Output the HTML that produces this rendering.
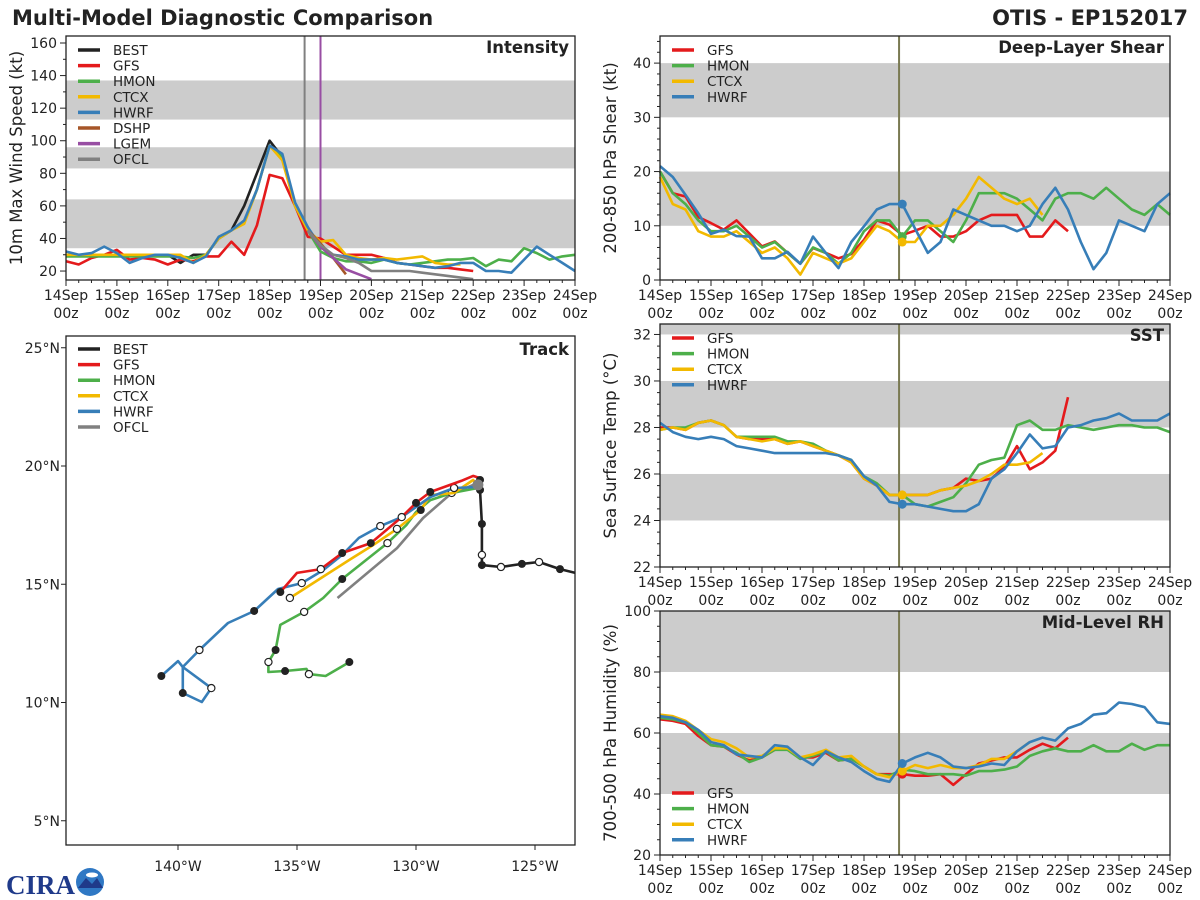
<!DOCTYPE html>
<html><head><meta charset="utf-8"><style>
html,body{margin:0;padding:0;background:#fff;}
svg{display:block;font-family:"DejaVu Sans","Liberation Sans",sans-serif;}
</style></head><body>
<svg id="chart" width="1200" height="900" viewBox="0 0 1200 900" xmlns="http://www.w3.org/2000/svg">
<rect width="1200" height="900" fill="#fff"/>
<text x="12" y="25" font-size="21" font-weight="bold" fill="#222">Multi-Model Diagnostic Comparison</text>
<text x="1188" y="25" font-size="21" font-weight="bold" fill="#222" text-anchor="end">OTIS - EP152017</text>
<g>
<text x="6" y="894" font-size="27" font-weight="bold" fill="#1f3a8a" font-family="Liberation Serif,serif">CIRA</text>
<circle cx="90" cy="882" r="14" fill="#2f78c4"/>
<path d="M78 888 L86 878 L92 884 L97 878 L103 888 Z" fill="#1f3a8a"/>
<ellipse cx="92" cy="875" rx="6" ry="2.5" fill="#fff"/>
</g>
</svg>
<script>
// ---------- DATA ----------
const days = ["14Sep","15Sep","16Sep","17Sep","18Sep","19Sep","20Sep","21Sep","22Sep","23Sep","24Sep"];
// intensity (kt), 6-hourly from 14Sep 00z
const intBEST = [30,30,30,30,30,30,30,30,30,25,30,30,40,45,60,80,100,90,60,45];
const intGFS  = [26,24,28,30,33,27,28,27,24,27,26,29,29,38,30,48,79,77,60,41,40,35,30,30,30,28,25,24,23,22,22,21,20];
const intHMON = [29,29,29,29,29,29,29,29,29,29,28,30,40,45,50,70,97,90,60,45,32,28,26,26,25,27,25,24,25,26,27,27,28,23,27,26,34,31,27,29,30];
const intCTCX = [30,30,30,30,30,30,30,30,30,30,25,30,40,45,49,70,97,88,60,45,38,39,30,28,27,28,27,28,29,25,24,24];
const intHWRF = [32,30,31,35,31,25,28,30,30,28,25,29,41,45,51,70,97,92,62,47,35,30,29,27,27,27,25,24,23,22,23,25,25,20,20,19,27,35,30,25,20];
const intDSHP = [null,null,null,null,null,null,null,null,null,null,null,null,null,null,null,null,null,null,null,45,37,28,18];
const intLGEM = [null,null,null,null,null,null,null,null,null,null,null,null,null,null,null,null,null,null,null,45,35,28,21,18,15];
const intOFCL = [null,null,null,null,null,null,null,null,null,null,null,null,null,null,null,null,null,null,null,45,36,30,28,25,20,20,20,20,19,18,17,16,15];
// shear (kt)
const shrGFS  = [20,16,15.4,11.6,10.5,9.3,11,8.6,6.2,7.1,5,3,5.9,5,4,4.8,7.4,11,10.2,8.3,9.1,10,8,8,9,11,12,12,12,8,8,11,9];
const shrHMON = [20,16,14,11,9,9,10,8,6,7,5,3,6,5,3,5,9,11,11,8,11,11,9,7,11,16,16,16,15,13,11,15,16,16,15,17,15,13,12,14,12];
const shrCTCX = [19,14,13,9,8,8,9,7,5,6,4,1,5,4,3,4,7,10,9,7,7,10,10,12,15,19,17,15,14,15,12];
const shrHWRF = [21,19,15.7,12.3,8.5,9.3,8.1,8,4,4,5.2,3,8,5,2.2,7,9.9,13,14,14,9.5,5,7,13,12,11,10,10,9,10,14,17,13,7,2,5,11,10,9,14,16];
// SST (C)
const sstGFS  = [28.0,28.0,27.9,28.2,28.3,28.1,27.6,27.5,27.5,27.5,27.3,27.4,27.2,27.0,26.8,26.5,25.8,25.5,25.1,25.1,25.1,25.1,25.3,25.4,25.8,25.7,25.8,26.3,27.2,26.2,26.5,27.0,29.3];
const sstHMON = [27.9,28.0,28.0,28.2,28.3,28.1,27.6,27.6,27.6,27.6,27.4,27.4,27.3,27.0,26.8,26.6,25.9,25.6,25.1,25.1,24.7,24.6,24.8,25.0,25.6,26.4,26.6,26.7,28.1,28.3,27.9,27.9,28.1,28.0,27.9,28.0,28.1,28.1,28.0,28.0,27.8];
const sstCTCX = [27.9,28.0,27.9,28.2,28.3,28.1,27.6,27.5,27.4,27.5,27.3,27.4,27.2,27.0,26.8,26.5,25.8,25.5,25.1,25.1,25.1,25.1,25.3,25.4,25.5,25.7,26.0,26.4,26.4,26.5,26.9];
const sstHWRF = [28.2,27.8,27.6,27.5,27.6,27.5,27.2,27.1,27.0,26.9,26.9,26.9,26.9,26.9,26.8,26.6,25.9,25.5,24.8,24.7,24.7,24.6,24.5,24.4,24.4,24.7,25.8,26.2,26.9,27.7,27.1,27.2,28.0,28.1,28.3,28.4,28.6,28.3,28.3,28.3,28.6];
// RH (%)
const rhGFS  = [64.5,64,63,59,56,55.5,53,51,52,54.5,55,52,52,53.5,51,51.5,49,46.5,46.5,46.5,46,46,46.5,43,46.5,50,51,52,52,54.5,56.5,55,58.5];
const rhHMON = [65,64.5,63.5,60,56,55.5,53.5,50.5,52,54.5,54.5,51.5,52.5,54,51,51.5,49,46.5,46,48,47.5,46.5,46.5,46.5,46,47.5,47.5,48,49,52.5,54,55,54,54,56,54,54,56.5,54.5,56,56];
const rhCTCX = [66,65.5,64,61,58,57,55,52,52.5,55,55,52,53,54.5,52,52.5,49,46.5,45.5,47.5,49.5,48.5,49.5,48.5,48.5,49.5,51.5,51.5,54,57];
const rhHWRF = [65.5,65,63.5,61,57,56,53,52.5,52,56,55.5,52,49.5,54,52,50.5,47.5,45,44,50,52,53.5,52,49,48.5,49,50,49.5,54,57,58.5,57.5,61.5,63,66,66.5,70,69.5,68.5,63.5,63];
// tracks (lon, lat)
const bestLon = [-123.3,-123.95,-124.83,-125.55,-126.43,-127.23,-127.23,-127.23,-127.31,-127.31];
const bestLat = [15.48,15.64,15.94,15.86,15.73,15.81,16.24,17.55,18.99,19.41];
const gfsLon = [-127.31,-127.6,-128.1,-129.4,-130.0,-130.6,-131.9,-133.1,-134.0,-135.0,-135.7];
const gfsLat = [19.49,19.58,19.37,18.9,18.44,17.84,16.74,16.32,15.64,15.48,14.67];
const hwrfLon = [-127.4,-128.4,-129.4,-130.6,-131.5,-132.4,-133.1,-133.9,-134.8,-135.8,-136.8,-137.9,-139.1,-139.8,-139.8,-139.0,-138.6,-139.8,-140.0,-140.7];
const hwrfLat = [19.11,19.07,18.69,17.84,17.46,16.96,16.24,15.6,15.05,14.8,13.87,13.36,12.22,11.5,10.4,10.02,10.61,11.5,11.75,11.12];
const ctcxLon = [-127.4,-127.6,-128.4,-129.4,-129.8,-130.8,-131.8,-132.8,-135.3];
const ctcxLat = [19.2,19.41,18.86,18.77,18.14,17.34,16.66,16.03,14.42];
const hmonLon = [-127.4,-128.5,-129.4,-130.0,-130.4,-131.2,-132.2,-133.1,-133.9,-134.7,-135.7,-135.9,-136.2,-136.2,-135.5,-134.6,-134.5,-133.8,-132.8];
const hmonLat = [19.07,18.86,18.56,18.05,17.51,16.74,15.94,15.22,14.42,13.83,13.28,12.22,11.71,11.29,11.33,11.42,11.2,11.12,11.71];
const ofclLon = [-127.6,-128.6,-129.7,-130.8,-133.3];
const ofclLat = [19.2,18.77,17.8,16.53,14.42];
const latTicks = [5,10,15,20,25];
const lonTicks = [-140,-135,-130,-125];

// ---------- RENDER ----------
const C = {BEST:"#222222",GFS:"#e41a1c",HMON:"#4daf4a",CTCX:"#f2b900",HWRF:"#377eb8",DSHP:"#a65628",LGEM:"#984ea3",OFCL:"#808080"};
const svg = document.getElementById("chart");
const NS = "http://www.w3.org/2000/svg";
function mk(tag, attrs, parent){
  const e = document.createElementNS(NS, tag);
  for (const k in attrs) e.setAttribute(k, attrs[k]);
  (parent||svg).appendChild(e);
  return e;
}
function txt(s, attrs, parent){ const t = mk("text", attrs, parent); t.textContent = s; return t; }

function panel(p){
  const g = mk("g", {});
  
  
  const xs = i => p.L + i*(p.R-p.L)/40;
  const ys = v => p.B - (v-p.ymin)/(p.ymax-p.ymin)*(p.B-p.T);
  p.bands.forEach(b=>{
    const r = mk("rect",{x:p.L,y:ys(Math.min(b[1],p.ymax)),width:p.R-p.L,height:ys(b[0])-ys(Math.min(b[1],p.ymax)),fill:"#cccccc"},g);
    
    
  });
  for(let i=0;i<=40;i++){
    const major = i%4===0;
    mk("line",{x1:xs(i),x2:xs(i),y1:p.B,y2:p.B+(major?6:3),stroke:"#222","stroke-width":1},g);
    if(major){
      const t1 = txt(days[i/4],{x:xs(i),y:p.B+20,"font-size":14,"text-anchor":"middle",fill:"#222"},g);
      
      
      txt("00z",{x:xs(i),y:p.B+38,"font-size":14,"text-anchor":"middle",fill:"#222"},g);
    }
  }
  for(let v=Math.ceil(p.ymin/p.minor)*p.minor; v<=p.ymax; v+=p.minor){
    const major = Math.abs(v/p.step - Math.round(v/p.step))<1e-6;
    mk("line",{x1:p.L,x2:p.L-(major?6:3),y1:ys(v),y2:ys(v),stroke:"#222","stroke-width":1},g);
    if(major){
      const t = txt(String(v),{x:p.L-9,y:ys(v)+5,"font-size":14,"text-anchor":"end",fill:"#222"},g);
      
      
    }
  }
  const yt = txt(p.ylabel,{x:0,y:0,"font-size":16.5,"text-anchor":"middle",fill:"#222",transform:`translate(${p.L-44},${(p.T+p.B)/2}) rotate(-90)`},g);
  
  
  p.vlines.forEach(v=>{
    const l = mk("line",{x1:xs(v[0]),x2:xs(v[0]),y1:p.T,y2:p.B,stroke:v[1],"stroke-width":2},g);
    
    
  });
  p.series.forEach(s=>{
    let d="", pen=false;
    s.data.forEach((v,i)=>{
      if(v===null||v===undefined){pen=false;return;}
      let yy = ys(v); if (yy>p.B) yy=p.B;
      d += (pen?"L":"M")+xs(i).toFixed(1)+","+yy.toFixed(1)+" "; pen=true;
    });
    const path = mk("path",{d:d,fill:"none",stroke:C[s.k],"stroke-width":2.6,"stroke-linejoin":"round"},g);
    
    
  });
  (p.dots||[]).forEach(dt=>{
    const s = p.series.find(q=>q.k===dt);
    const c = mk("circle",{cx:xs(19),cy:ys(s.data[19]),r:4.5,fill:C[dt]},g);
    
    
  });
  mk("rect",{x:p.L,y:p.T,width:p.R-p.L,height:p.B-p.T,fill:"none",stroke:"#222","stroke-width":1.3},g);
  const tt = txt(p.title,{x:p.R-6,y:p.T+17,"font-size":16.5,"font-weight":"bold","text-anchor":"end",fill:"#222"},g);
  
  
  legend(g, p.L+12, p.legY, p.series.map(s=>s.k));
}
function legend(g, x, y, keys){
  keys.forEach((k,i)=>{
    const e = mk("g",{},g);
    
    
    mk("line",{x1:x,x2:x+22,y1:y+i*15.6,y2:y+i*15.6,stroke:C[k],"stroke-width":3.5},e);
    txt(k,{x:x+35,y:y+i*15.6+5,"font-size":13.5,fill:"#222"},e);
  });
}

panel({name:"intensity-panel",L:66,R:575,T:36,B:280,ymin:14.5,ymax:164.3,step:20,minor:10,
  bands:[[34,64],[83,96],[113,137]],ylabel:"10m Max Wind Speed (kt)",title:"Intensity",legY:50,
  vlines:[[18.75,"#808080"],[20,"#984ea3"]],
  series:[{k:"BEST",data:intBEST},{k:"GFS",data:intGFS},{k:"HMON",data:intHMON},{k:"CTCX",data:intCTCX},{k:"HWRF",data:intHWRF},{k:"DSHP",data:intDSHP},{k:"LGEM",data:intLGEM},{k:"OFCL",data:intOFCL}]});
panel({name:"shear-panel",L:660,R:1170,T:36,B:280,ymin:0,ymax:45,step:10,minor:2,
  bands:[[10,20],[30,40]],ylabel:"200-850 hPa Shear (kt)",title:"Deep-Layer Shear",legY:50,
  vlines:[[18.75,"#7a7a52"]],dots:["HMON","CTCX","HWRF"],
  series:[{k:"GFS",data:shrGFS},{k:"HMON",data:shrHMON},{k:"CTCX",data:shrCTCX},{k:"HWRF",data:shrHWRF}]});
panel({name:"sst-panel",L:660,R:1170,T:324,B:567,ymin:22,ymax:32.45,step:2,minor:0.5,
  bands:[[24,26],[28,30],[32,33]],ylabel:"Sea Surface Temp (°C)",title:"SST",legY:338,
  vlines:[[18.75,"#7a7a52"]],dots:["HWRF","CTCX"],
  series:[{k:"GFS",data:sstGFS},{k:"HMON",data:sstHMON},{k:"CTCX",data:sstCTCX},{k:"HWRF",data:sstHWRF}]});
panel({name:"rh-panel",L:660,R:1170,T:611,B:855,ymin:20,ymax:100,step:20,minor:5,
  bands:[[40,60],[80,100]],ylabel:"700-500 hPa Humidity (%)",title:"Mid-Level RH",legY:793,
  vlines:[[18.75,"#7a7a52"]],dots:["GFS","CTCX","HWRF"],
  series:[{k:"GFS",data:rhGFS},{k:"HMON",data:rhHMON},{k:"CTCX",data:rhCTCX},{k:"HWRF",data:rhHWRF}]});

// ---------- TRACK ----------
(function(){
  const L=66,R=575,T=336,B=845;
  const lx = lon => 178 + (lon+140)*23.8;
  const ly = lat => 466 - (lat-20)*23.65;
  const g = mk("g",{});
  
  
  const clip = mk("clipPath",{id:"trk"},g); mk("rect",{x:L,y:T,width:R-L,height:B-T},clip);
  latTicks.forEach(v=>{
    mk("line",{x1:L,x2:L-5,y1:ly(v),y2:ly(v),stroke:"#222"},g);
    const t = txt(v+"°N",{x:L-6,y:ly(v)+5,"font-size":14,"text-anchor":"end",fill:"#222"},g);
    
    
  });
  lonTicks.forEach(v=>{
    mk("line",{x1:lx(v),x2:lx(v),y1:B,y2:B+5,stroke:"#222"},g);
    const t = txt((-v)+"°W",{x:lx(v),y:B+26,"font-size":14,"text-anchor":"middle",fill:"#222"},g);
    
    
  });
  const cg = mk("g",{"clip-path":"url(#trk)"},g);
  function track(k, lons, lats, filled, open){
    const d = lons.map((v,i)=>(i?"L":"M")+lx(v).toFixed(1)+","+ly(lats[i]).toFixed(1)).join(" ");
    const p = mk("path",{d:d,fill:"none",stroke:C[k],"stroke-width":2.6,"stroke-linejoin":"round"},cg);
    
    
    filled.forEach(i=>{ const c=mk("circle",{cx:lx(lons[i]),cy:ly(lats[i]),r:4,fill:"#222"},cg);
        });
    open.forEach(i=>{ const c=mk("circle",{cx:lx(lons[i]),cy:ly(lats[i]),r:3.6,fill:"#fff",stroke:"#222","stroke-width":1.2},cg);
        });
  }
  track("OFCL",ofclLon,ofclLat,[],[]);
  track("HMON",hmonLon,hmonLat,[7,11,14,18],[1,5,9,12,16]);
  track("CTCX",ctcxLon,ctcxLat,[4],[5,8]);
  track("HWRF",hwrfLon,hwrfLat,[10,14,19],[1,4,8,12,16]);
  track("GFS",gfsLon,gfsLat,[3,4,6,7,10],[5,8]);
  track("BEST",bestLon,bestLat,[1,3,5,7,8,9],[2,4,6]);
  const cur = mk("circle",{cx:lx(ctcxLon[0]),cy:ly(ctcxLat[0]),r:5.5,fill:"#808080"},cg);
  
  
  mk("rect",{x:L,y:T,width:R-L,height:B-T,fill:"none",stroke:"#222","stroke-width":1.3},g);
  const tt = txt("Track",{x:R-6,y:T+19,"font-size":16.5,"font-weight":"bold","text-anchor":"end",fill:"#222"},g);
  
  
  legend(g, L+12, 349, ["BEST","GFS","HMON","CTCX","HWRF","OFCL"]);
})();
</script>
</body></html>
